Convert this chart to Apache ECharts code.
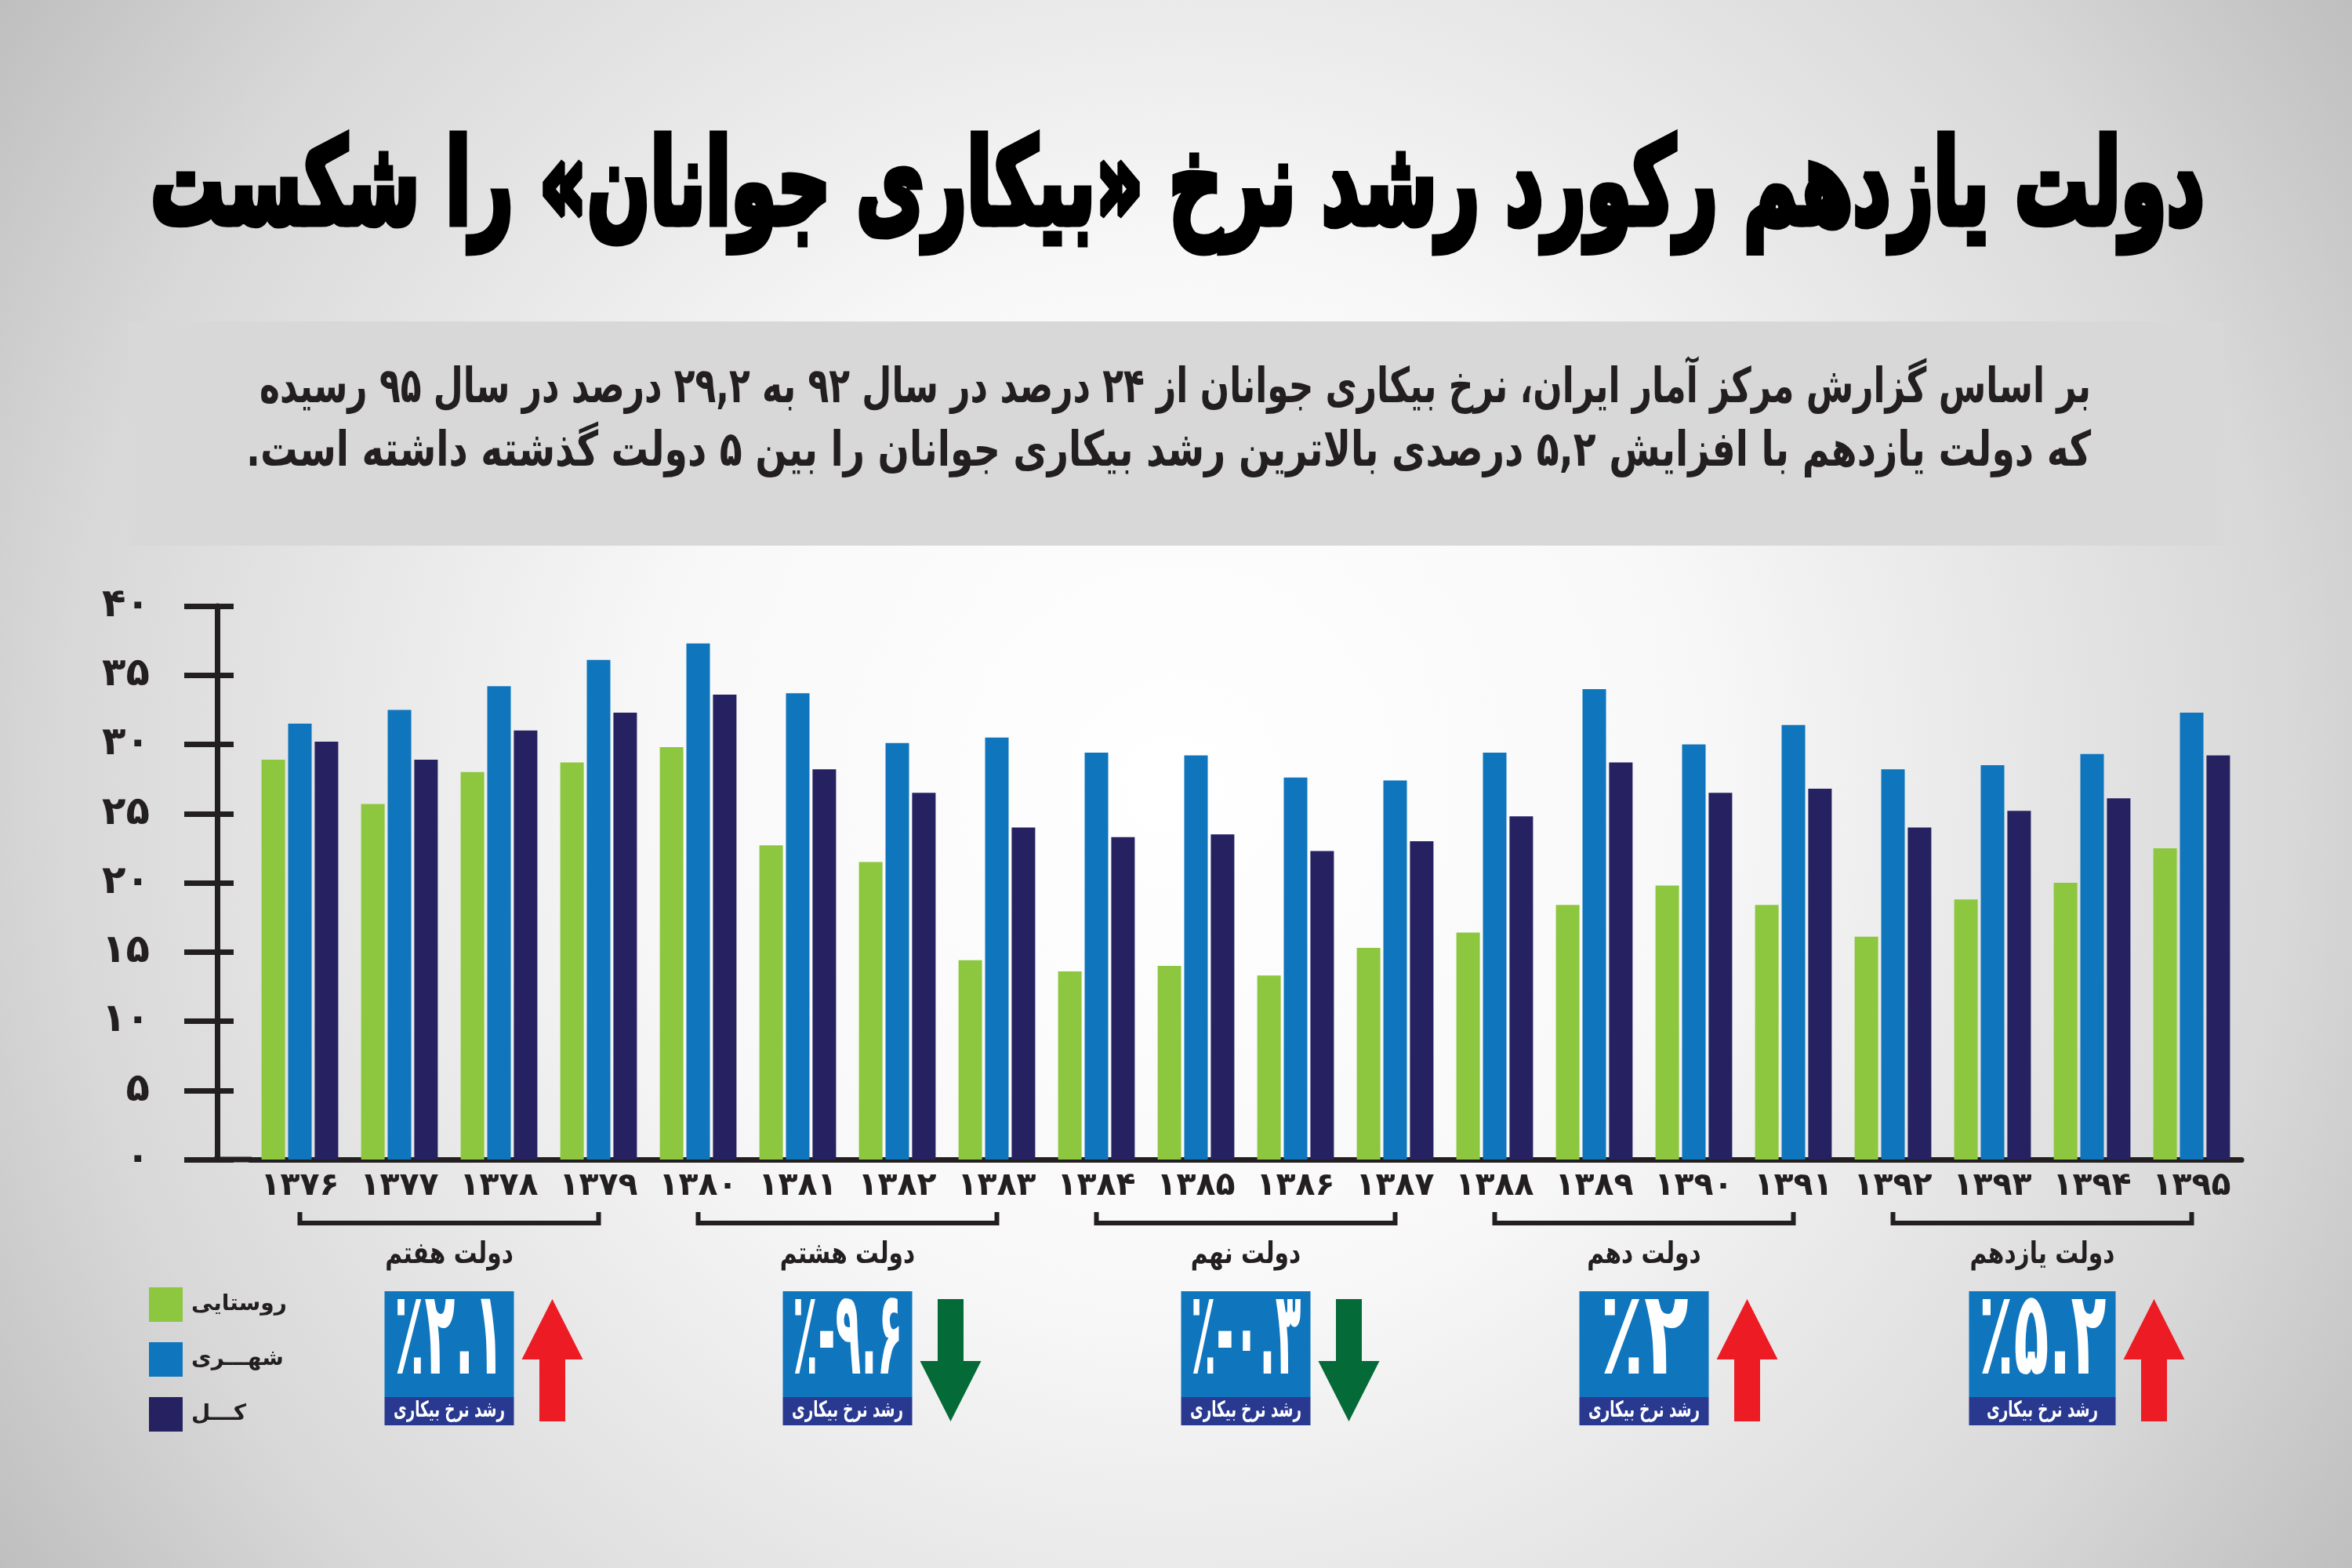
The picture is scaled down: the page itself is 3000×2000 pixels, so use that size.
<!DOCTYPE html>
<html><head><meta charset="utf-8">
<script src="https://cdn.jsdelivr.net/npm/echarts@6/dist/echarts.min.js"></script>
<style>html,body{margin:0;padding:0;background:#fff}#c{width:3000px;height:2000px;}</style>
</head><body><div id="c"></div>
<script>
// ---------- data ----------
const years = [1376,1377,1378,1379,1380,1381,1382,1383,1384,1385,1386,1387,1388,1389,1390,1391,1392,1393,1394,1395];
const rural = [28.9,25.7,28.0,28.7,29.8,22.7,21.5,14.4,13.6,14.0,13.3,15.3,16.4,18.4,19.8,18.4,16.1,18.8,20.0,22.5];
const urban = [31.5,32.5,34.2,36.1,37.3,33.7,30.1,30.5,29.4,29.2,27.6,27.4,29.4,34.0,30.0,31.4,28.2,28.5,29.3,32.3];
const total = [30.2,28.9,31.0,32.3,33.6,28.2,26.5,24.0,23.3,23.5,22.3,23.0,24.8,28.7,26.5,26.8,24.0,25.2,26.1,29.2];
const seriesNames = ['روستایی','شهـــری','کـــل'];
const governments = ['دولت هفتم','دولت هشتم','دولت نهم','دولت دهم','دولت یازدهم'];
const govFirstYear = [1376,1380,1384,1388,1392];
const govLastYear = [1379,1383,1387,1391,1395];
const govGrowth = [2.1,-9.6,-0.3,2,5.2];
const growthCaption = 'رشد نرخ بیکاری';
const yTickValues = [0,5,10,15,20,25,30,35,40];
const titleText = 'دولت یازدهم رکورد رشد نرخ «بیکاری جوانان» را شکست';
const paragraphLines = [
  'بر اساس گزارش مرکز آمار ایران، نرخ بیکاری جوانان از ۲۴ درصد در سال ۹۲ به ۲۹,۲ درصد در سال ۹۵ رسیده',
  'که دولت یازدهم با افزایش ۵,۲ درصدی بالاترین رشد بیکاری جوانان را بین ۵ دولت گذشته داشته است.'
];

// ---------- style ----------
const FONT = 'DejaVu Sans';
const ink = '#231f20';
const colGreen = '#8dc63f', colBlue = '#0f75bc', colNavy = '#262261';
const fa = x => String(x).replace(/\d/g, d => '۰۱۲۳۴۵۶۷۸۹'[d]);
const rtl = s => '\u202B' + s + '\u202C';
const mctx = document.createElement('canvas').getContext('2d');
function textW(s, size, weight) { mctx.font = (weight||'normal') + ' ' + size + 'px "' + FONT + '"'; return mctx.measureText(s).width; }

const chart = echarts.init(document.getElementById('c'), null, {renderer:'canvas', width:3000, height:2000});
const tickStyle = {color: ink, width: 7};
chart.setOption({
  animation: false,
  backgroundColor: {type:'radial', x:0.5, y:0.5, r:0.95, colorStops:[
    {offset:0, color:'#ffffff'}, {offset:0.35, color:'#f8f8f8'}, {offset:0.75, color:'#d8d8d8'}, {offset:1, color:'#b8b8b8'}]},
  grid: {left:319, right:141, top:773, bottom:521, outerBoundsMode:'none'},
  legend: {
    orient:'vertical', left:190, top:1642, itemWidth:43, itemHeight:44, itemGap:26, padding:0,
    icon:'rect', data: seriesNames,
    textStyle:{fontSize:28, fontWeight:'bold', fontFamily:FONT, color:ink, padding:[0,0,0,6]}
  },
  xAxis: {
    type:'category', data: years,
    axisLine:{lineStyle: tickStyle},
    axisTick:{inside:true, length:17, lineStyle: tickStyle},
    axisLabel:{interval:0, hideOverlap:false, formatter: v => fa(v), fontSize:41, fontWeight:'bold', fontFamily:FONT, color:ink, margin:14}
  },
  yAxis: [{
    type:'value', min:0, max:40, interval:5, offset:42,
    axisLine:{show:true, lineStyle: tickStyle},
    axisTick:{show:true, length:42, lineStyle: tickStyle},
    splitLine:{show:false},
    axisLabel:{formatter: v => yTickValues.includes(v) ? fa(v) : '', fontSize:50, fontWeight:'bold', fontFamily:FONT, color:ink, margin:86}
  },{
    type:'value', min:0, max:40, interval:5, offset:42, position:'left',
    axisLine:{show:false}, axisTick:{show:true, inside:true, length:21, lineStyle: tickStyle},
    splitLine:{show:false}, axisLabel:{show:false}
  }],
  series: [
    {name:seriesNames[0], type:'bar', data:rural, barWidth:30, barGap:'13%', itemStyle:{color:colGreen}},
    {name:seriesNames[1], type:'bar', data:urban, barWidth:30, barGap:'13%', itemStyle:{color:colBlue}},
    {name:seriesNames[2], type:'bar', data:total, barWidth:30, barGap:'13%', itemStyle:{color:colNavy}}
  ]
});

// ---------- decorations placed through the axes ----------
const px = i => chart.convertToPixel({xAxisIndex:0}, i);
const py = v => chart.convertToPixel({yAxisIndex:0}, v);
const g = [];
// title
const tSize = 150;
const tW = textW(titleText, tSize, 'bold');
g.push({type:'text', x:1502, y:246, scaleX: 2620 / tW, z:10,
  style:{text: rtl(titleText), fontSize:tSize, fontWeight:'bold', fontFamily:FONT, fill:'#000', stroke:'#000', lineWidth:9, align:'center', verticalAlign:'middle'}});
// gray box + paragraph
g.push({type:'rect', shape:{x:164, y:410, width:2672, height:286}, style:{fill:'#d8d8d8'}, z:1});
const pSize = 62;
const pTargets = [2336, 2353];
[497, 578].forEach((yy, k) => g.push({type:'text', x:2667, y:yy, scaleX: pTargets[k] / textW(paragraphLines[k], pSize, 'bold'), z:10,
  style:{text: rtl(paragraphLines[k]), fontSize:pSize, fontWeight:'bold', fontFamily:FONT, fill:ink, align:'right', verticalAlign:'middle'}}));
// x-axis line extension to the y axis
const y0 = py(0);
g.push({type:'line', shape:{x1: px(0) - (px(1)-px(0))/2 - 46, y1:y0, x2: px(0) - (px(1)-px(0))/2 + 2, y2:y0}, style:{stroke:ink, lineWidth:7}, z:5});
// governments
governments.forEach((name, k) => {
  const i0 = years.indexOf(govFirstYear[k]), i1 = years.indexOf(govLastYear[k]);
  const x0 = px(i0), x1 = px(i1), cx = (x0 + x1) / 2;
  g.push({type:'polyline', shape:{points:[[x0,1546],[x0,1560],[x1,1560],[x1,1546]]}, style:{stroke:ink, lineWidth:6, fill:null}, z:5});
  g.push({type:'text', x:cx, y:1601, scaleX:0.78, z:10, style:{text: rtl(name), fontSize:38, fontWeight:'bold', fontFamily:FONT, fill:ink, align:'center', verticalAlign:'middle'}});
  // growth box
  const v = govGrowth[k];
  const bw = (k === governments.length - 1) ? 187 : 165, bx = cx - bw/2, by = 1647;
  g.push({type:'rect', shape:{x:bx, y:by, width:bw, height:135}, style:{fill:colBlue}, z:5});
  g.push({type:'rect', shape:{x:bx, y:by+135, width:bw, height:36}, style:{fill:'#2a3990'}, z:5});
  const numText = '٪' + (v < 0 ? '-' : '') + fa(Math.abs(v));
  const nSize = 150;
  const nW = textW(numText, nSize, 'bold');
  const nScale = Math.min(0.62, (bw - 24) / nW);
  g.push({type:'text', x:cx, y:by + 66, scaleX:nScale, z:10, style:{text:numText, fontSize:nSize, fontWeight:'bold', fontFamily:FONT, fill:'#fff', align:'center', verticalAlign:'middle'}});
  const cSize = 28;
  const cScale = Math.min(1, 142 / textW(growthCaption, cSize, 'bold'));
  g.push({type:'text', x:cx, y:by + 153, scaleX:cScale, z:10, style:{text: rtl(growthCaption), fontSize:cSize, fontWeight:'bold', fontFamily:FONT, fill:'#fff', align:'center', verticalAlign:'middle'}});
  // arrow
  const ax = bx + bw + 10, aw = 78, sw = 33, top = 1657, bot = 1813, hh = 77;
  const acx = ax + aw/2;
  let pts;
  if (v >= 0) {
    pts = [[acx, top],[ax+aw, top+hh],[acx+sw/2, top+hh],[acx+sw/2, bot],[acx-sw/2, bot],[acx-sw/2, top+hh],[ax, top+hh]];
  } else {
    pts = [[acx, bot],[ax+aw, bot-hh],[acx+sw/2, bot-hh],[acx+sw/2, top],[acx-sw/2, top],[acx-sw/2, bot-hh],[ax, bot-hh]];
  }
  g.push({type:'polygon', shape:{points:pts}, style:{fill: v >= 0 ? '#ed1c24' : '#046a38'}, z:5});
});
chart.setOption({graphic: g});
</script>
</body></html>
